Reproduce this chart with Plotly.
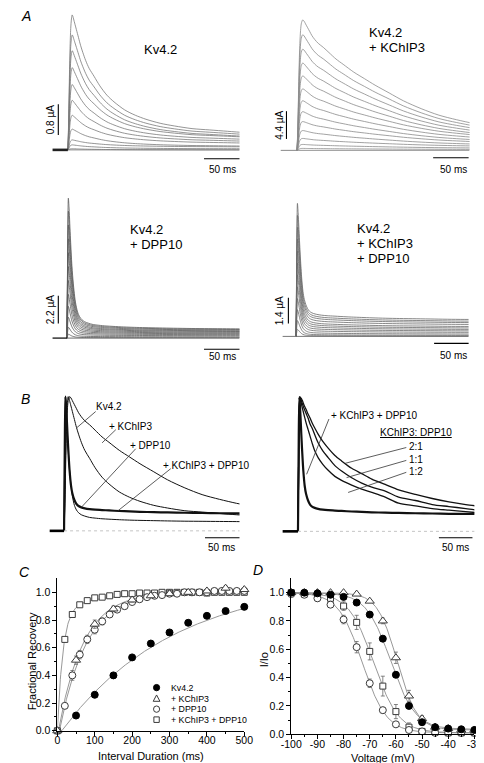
import numpy as np
import plotly.graph_objects as go

W, H = 484, 763
FONT = "Liberation Sans, Arial, sans-serif"

# ---------------- DATA ----------------
# Sample times (ms after the depolarising step) and peak-normalised current waveforms
T_MS = [0, 1, 2, 3, 4, 5, 6, 7, 8, 10, 12, 15, 18, 21, 25, 30, 37, 45, 55, 65, 80, 95, 110, 130, 150, 175, 200, 225, 250, 265]
wave_kv42   = [0, 0.2, 0.5, 0.75, 0.9, 0.97, 1.0, 0.99, 0.97, 0.93, 0.89, 0.83, 0.77, 0.72, 0.66, 0.60, 0.54, 0.47, 0.40, 0.35, 0.29, 0.25, 0.22, 0.19, 0.17, 0.15, 0.14, 0.13, 0.12, 0.115]
wave_kchip3 = [0, 0.15, 0.4, 0.65, 0.82, 0.92, 0.97, 0.99, 1.0, 0.99, 0.97, 0.94, 0.91, 0.88, 0.85, 0.82, 0.79, 0.75, 0.70, 0.66, 0.60, 0.55, 0.50, 0.44, 0.38, 0.32, 0.27, 0.235, 0.205, 0.19]
wave_dpp10  = [0, 0.6, 1.0, 0.93, 0.82, 0.71, 0.61, 0.52, 0.45, 0.34, 0.26, 0.19, 0.155, 0.135, 0.12, 0.11, 0.10, 0.095, 0.09, 0.087, 0.083, 0.08, 0.078, 0.076, 0.074, 0.072, 0.071, 0.07, 0.069, 0.068]
wave_kd     = [0, 0.6, 1.0, 0.93, 0.83, 0.72, 0.62, 0.53, 0.45, 0.34, 0.28, 0.23, 0.2, 0.185, 0.175, 0.168, 0.162, 0.158, 0.155, 0.152, 0.148, 0.145, 0.142, 0.139, 0.137, 0.135, 0.133, 0.131, 0.13, 0.13]
wave_2to1   = [0, 0.5, 0.9, 1.0, 0.995, 0.99, 0.98, 0.97, 0.955, 0.93, 0.91, 0.875, 0.845, 0.81, 0.77, 0.725, 0.67, 0.62, 0.565, 0.525, 0.47, 0.43, 0.39, 0.35, 0.31, 0.275, 0.245, 0.22, 0.2, 0.19]
wave_1to1   = [0, 0.5, 0.9, 1.0, 0.99, 0.975, 0.96, 0.945, 0.93, 0.905, 0.88, 0.845, 0.80, 0.77, 0.72, 0.66, 0.60, 0.55, 0.49, 0.45, 0.40, 0.36, 0.33, 0.30, 0.255, 0.23, 0.20, 0.185, 0.17, 0.16]
wave_1to2   = [0, 0.5, 0.9, 1.0, 0.98, 0.955, 0.93, 0.91, 0.89, 0.85, 0.81, 0.76, 0.71, 0.66, 0.60, 0.55, 0.50, 0.455, 0.41, 0.38, 0.345, 0.315, 0.29, 0.255, 0.21, 0.19, 0.17, 0.158, 0.147, 0.14]

# Panel A families: peak and end-of-pulse current of each sweep (uA)
kv42_peak_uA   = [3.51, 2.99, 2.58, 2.14, 1.70, 1.29, 0.90, 0.54, 0.26, 0.13, 0.03]
kv42_end_uA    = [0.46, 0.41, 0.36, 0.34, 0.28, 0.23, 0.18, 0.10, 0.08, 0.03, 0.0]
kchip3_peak_uA = [20.66, 18.31, 16.03, 13.83, 11.79, 9.74, 7.86, 6.13, 4.56, 3.14, 1.89, 0.94, 0.31]
kchip3_end_uA  = [4.40, 4.01, 3.61, 3.22, 2.83, 2.51, 2.12, 1.73, 1.41, 1.02, 0.71, 0.39, 0.16]
dpp10_peak_uA  = [11.08, 10.06, 8.96, 7.86, 6.76, 5.66, 4.56, 3.46, 2.51, 1.65, 0.86, 0.31]
dpp10_end_uA   = [0.73, 0.68, 0.63, 0.57, 0.52, 0.46, 0.40, 0.34, 0.27, 0.19, 0.10, 0.03]
kd_peak_uA     = [7.22, 6.57, 5.92, 5.28, 4.63, 3.98, 3.34, 2.69, 2.05, 1.45, 0.86, 0.38]
kd_end_uA      = [0.92, 0.83, 0.75, 0.65, 0.54, 0.46, 0.38, 0.30, 0.22, 0.13, 0.06, 0.02]
scale_bar_uA = [0.8, 4.4, 2.2, 1.4]
scale_bar_ms = 50

# Panel C: recovery from inactivation
rec_t_kv42 = [50, 100, 150, 200, 250, 300, 350, 400, 450, 500]
rec_kv42 = [0.11, 0.26, 0.40, 0.53, 0.63, 0.71, 0.78, 0.83, 0.865, 0.895]
rec_t_kchip3 = [0, 50, 100, 150, 200, 250, 300, 350, 400, 450, 500]
rec_kchip3 = [0, 0.51, 0.77, 0.88, 0.945, 0.975, 0.99, 1.0, 1.01, 1.03, 1.02]
rec_kchip3_err = [0, 0.03, 0.03, 0.02, 0.015, 0.01, 0.01, 0.01, 0.01, 0.015, 0.01]
rec_t_step = [0, 20, 40, 60, 80, 100, 120, 140, 160, 180, 200, 220, 240, 260, 280, 300, 320, 340, 360, 380, 400, 420, 440, 460, 480, 500]
rec_dpp10 = [0, 0.18, 0.40, 0.55, 0.66, 0.73, 0.79, 0.84, 0.875, 0.90, 0.93, 0.95, 0.965, 0.975, 0.98, 0.99, 0.99, 1.0, 1.0, 1.0, 1.0, 1.01, 1.01, 1.01, 1.01, 1.01]
rec_dpp10_err = [0, 0.02, 0.035, 0.03, 0.03, 0.03, 0.025, 0.02, 0.02, 0.02, 0.015, 0.015, 0.01, 0.01, 0.01, 0.01, 0.01, 0.01, 0.01, 0.01, 0.01, 0.01, 0.01, 0.01, 0.01, 0.01]
rec_kd = [0, 0.66, 0.84, 0.91, 0.94, 0.96, 0.965, 0.975, 0.985, 0.99, 0.99, 0.995, 0.995, 0.995, 1.0, 1.0, 1.0, 1.0, 1.0, 1.0, 0.995, 1.0, 1.0, 1.0, 1.0, 1.0]
# exponential fits: amplitude, tau (ms), delay (ms); KChIP3+DPP10 is double exponential
fit_rec_kv42 = [1.10, 300, 12]
fit_rec_kchip3 = [1.0, 66, 3]
fit_rec_dpp10 = [1.0, 72, 5.7]
fit_rec_kd = [0.88, 15, 0.12, 120]
rec_ticks = [0, 100, 200, 300, 400, 500]

# Panel D: steady-state inactivation
volt_mV = [-100, -95, -90, -85, -80, -75, -70, -65, -60, -55, -50, -45, -40, -35, -30]
inact_kv42   = [1.0, 1.0, 0.995, 0.985, 0.97, 0.93, 0.845, 0.675, 0.42, 0.20, 0.085, 0.05, 0.04, 0.035, 0.03]
inact_kchip3 = [1.0, 1.0, 1.0, 1.0, 1.0, 0.99, 0.94, 0.80, 0.54, 0.27, 0.11, 0.05, 0.04, 0.03, 0.03]
inact_dpp10  = [0.99, 0.985, 0.96, 0.915, 0.81, 0.615, 0.36, 0.17, 0.07, 0.03, 0.02, 0.01, 0.01, 0.01, 0.01]
inact_kd     = [1.0, 0.99, 0.98, 0.96, 0.905, 0.79, 0.585, 0.34, 0.16, 0.05, 0.02, 0.015, 0.01, 0.01, 0.01]
err_kv42   = [0.01, 0, 0, 0, 0.01, 0.01, 0.015, 0.02, 0.02, 0.015, 0.01, 0.005, 0.005, 0.005, 0.005]
err_kchip3 = [0, 0, 0, 0, 0, 0, 0.01, 0.02, 0.04, 0.04, 0.02, 0.01, 0.01, 0.01, 0.01]
err_dpp10  = [0.01, 0.01, 0.02, 0.02, 0.03, 0.04, 0.03, 0.02, 0.01, 0.01, 0.01, 0, 0, 0, 0]
err_kd     = [0.02, 0.01, 0.01, 0.02, 0.03, 0.05, 0.06, 0.07, 0.05, 0.03, 0.02, 0.01, 0, 0, 0]
# Boltzmann fits: V1/2 (mV), slope k (mV), residual
boltz_kv42 = [-62, 4.7, 0.035]
boltz_kchip3 = [-59.5, 3.8, 0.03]
boltz_dpp10 = [-72.8, 4.6, 0.01]
boltz_kd = [-68.5, 4.8, 0.01]
volt_ticks = [-100, -90, -80, -70, -60, -50, -40, -30]
frac_ticks = [0.0, 0.2, 0.4, 0.6, 0.8, 1.0]

# ---------------- FIGURE ----------------
fig = go.Figure()
shapes, anns = [], []


def text(x, y, s, size=10, anchor='center', angle=0, italic=False):
    anns.append(dict(x=x / W, y=1 - y / H, xref='paper', yref='paper', text=s, showarrow=False,
                     xanchor=anchor, yanchor='middle', textangle=angle, borderpad=0,
                     font=dict(size=size, color='black', family=FONT,
                               style='italic' if italic else 'normal')))


def seg(x0, y0, x1, y1, w=1.0, color='black', dash='solid'):
    shapes.append(dict(type='line', xref='paper', yref='paper', x0=x0 / W, y0=1 - y0 / H,
                       x1=x1 / W, y1=1 - y1 / H, line=dict(color=color, width=w, dash=dash)))


n_ax = [0]


def add_axes(box, xr, yr, xstyle=None, ystyle=None):
    n_ax[0] += 1
    n = n_ax[0]
    sfx = '' if n == 1 else str(n)
    l, t, r, b = box
    xa = dict(domain=[l / W, r / W], range=xr, anchor='y' + sfx, visible=False, fixedrange=True)
    ya = dict(domain=[1 - b / H, 1 - t / H], range=yr, anchor='x' + sfx, visible=False, fixedrange=True)
    if xstyle:
        xa.update(xstyle)
    if ystyle:
        ya.update(ystyle)
    fig.update_layout(**{'xaxis' + sfx: xa, 'yaxis' + sfx: ya})
    return 'x' + sfx, 'y' + sfx


def trace_axes(box, x0px, pxms, base, pxu):
    l, t, r, b = box
    return add_axes(box, [(l - x0px) / pxms, (r - x0px) / pxms], [(base - b) / pxu, (base - t) / pxu])


def family(wave, peaks, ends, t_end):
    t = np.array(T_MS, float)
    s = np.array(wave, float)
    ip = int(np.argmax(s))
    s_end = float(np.interp(t_end, t, s))
    idx = np.arange(len(s))
    out = []
    for pk, en in zip(peaks, ends):
        dec = en + (pk - en) * (s - s_end) / (1 - s_end)
        out.append(np.where(idx <= ip, pk * s, dec))
    return t, out


def line(xa, ya, x, y, color='black', width=1.0, dash='solid', smooth=True):
    fig.add_trace(go.Scatter(x=x, y=y, xaxis=xa, yaxis=ya, mode='lines', hoverinfo='skip',
                             line=dict(color=color, width=width, dash=dash,
                                       shape='spline' if smooth else 'linear', smoothing=0.8)))


# ---- Panel A ----
A_PANELS = [
    dict(wave=wave_kv42, pk=kv42_peak_uA, en=kv42_end_uA, box=(28, 0, 230, 150), x0=51, pxms=0.74,
         base=143, pxu=31 / 0.8, color='#7a7a7a', hold=(35, 51, 2.6, '#222'),
         vbar=(41, 128), vlab=(33, 112.5), hbar=(230, 152), hlab=(212, 163),
         title=['Kv4.2'], tpos=(148, 42, 'center')),
    dict(wave=wave_kchip3, pk=kchip3_peak_uA, en=kchip3_end_uA, box=(266, 0, 470, 150), x0=290,
         pxms=0.74, base=143.5, pxu=28 / 4.4, color='#8a8a8a', hold=(273, 290, 1.0, '#888'),
         vbar=(279, 132), vlab=(271, 118), hbar=(469, 151), hlab=(453, 163),
         title=['Kv4.2', '+ KChIP3'], tpos=(364, 25, 'left')),
    dict(wave=wave_dpp10, pk=dpp10_peak_uA, en=dpp10_end_uA, box=(28, 185, 230, 340), x0=50,
         pxms=0.74, base=332.7, pxu=28 / 2.2, color='#5c5c5c', hold=(35, 50, 1.2, 'black'),
         vbar=(41, 318), vlab=(33, 304), hbar=(230, 344), hlab=(212, 351),
         title=['Kv4.2', '+ DPP10'], tpos=(115, 223, 'left')),
    dict(wave=wave_kd, pk=kd_peak_uA, en=kd_end_uA, box=(266, 185, 469, 338), x0=289, pxms=0.72,
         base=331, pxu=26 / 1.4, color='#6a6a6a', hold=(275, 289, 1.0, '#777'),
         vbar=(281, 318), vlab=(272, 305), hbar=(469, 338), hlab=(453, 350),
         title=['Kv4.2', '+ KChIP3', '+ DPP10'], tpos=(352, 222, 'left')),
]

for i, p in enumerate(A_PANELS):
    xa, ya = trace_axes(p['box'], p['x0'], p['pxms'], p['base'], p['pxu'])
    t_end = (p['box'][2] - p['x0']) / p['pxms']
    t, curves = family(p['wave'], p['pk'], p['en'], t_end)
    for y in curves[::-1]:
        line(xa, ya, t, y, color=p['color'], width=0.8)
    line(xa, ya, [0, t_end], [0, 0], color=p['color'], width=0.9, smooth=False)
    h0, h1, hw, hc = p['hold']
    seg(h0, p['base'], h1, p['base'], w=hw, color=hc)
    vx, vb = p['vbar']
    seg(vx, vb, vx, vb - scale_bar_uA[i] * p['pxu'], w=1.1)
    text(p['vlab'][0], p['vlab'][1], f"{scale_bar_uA[i]} µA", size=10, angle=-90)
    hx, hy = p['hbar']
    seg(hx - scale_bar_ms * p['pxms'], hy, hx, hy, w=1.1)
    text(p['hlab'][0], p['hlab'][1], f"{scale_bar_ms} ms", size=10)
    tx, ty, anc = p['tpos']
    for k, s in enumerate(p['title']):
        text(tx, ty + k * 15, s, size=13, anchor=anc)

text(7, 8, 'A', size=14, italic=True)

# ---- Panel B ----
xa, ya = trace_axes((25, 385, 230, 532), 47, 0.72, 527, 135.3)
for wv, wd in [(wave_kchip3, 1.0), (wave_kv42, 1.0), (wave_dpp10, 1.0), (wave_kd, 2.2)]:
    line(xa, ya, T_MS, wv, color='#111', width=wd)
seg(47, 527, 230, 527, w=1, color='#c4c4c4', dash='dot')
seg(32, 527, 47, 527, w=2.6)
seg(194, 534, 194 + scale_bar_ms * 0.72, 534, w=1.1)
text(211, 544, f"{scale_bar_ms} ms", size=10)
text(7, 394, 'B', size=14, italic=True)
text(94, 402, 'Kv4.2', size=10)
text(117, 421.5, '+ KChIP3', size=10)
text(137.5, 441, '+ DPP10', size=10)
text(196, 461.5, '+ KChIP3 + DPP10', size=10)
for (x0, y0, x1, y1) in [(80, 406.7, 60, 423.3), (101, 425, 86.7, 438.3),
                         (121.7, 444.3, 65, 503.3), (158.3, 464.3, 103.3, 506.7)]:
    seg(x0, y0, x1, y1, w=0.8, color='#333')

xa, ya = trace_axes((270, 385, 475, 532), 291, 0.70, 527.5, 135.2)
for wv, wd in [(wave_2to1, 1.3), (wave_1to1, 1.3), (wave_1to2, 1.3), (wave_kd, 2.2)]:
    line(xa, ya, T_MS, wv, color='#111', width=wd)
seg(291, 527.5, 475, 527.5, w=1, color='#c4c4c4', dash='dot')
seg(275, 527.5, 291, 527.5, w=2.6)
seg(438, 534, 438 + scale_bar_ms * 0.70, 534, w=1.1)
text(455, 544, f"{scale_bar_ms} ms", size=10)
text(371, 410.5, '+ KChIP3 + DPP10', size=10)
text(414, 427.5, '<u>KChIP3: DPP10</u>', size=10)
text(414, 442, '2:1', size=10)
text(414, 455, '1:1', size=10)
text(414, 467.5, '1:2', size=10)
for (x0, y0, x1, y1) in [(323.3, 414.3, 300, 470), (404, 443, 340, 459),
                         (404, 456, 341.7, 473.3), (404, 468, 343.3, 488.3)]:
    seg(x0, y0, x1, y1, w=0.8, color='#333')

# ---- Panel C / D axes style ----
AX = dict(visible=True, showline=True, linecolor='black', linewidth=1, ticks='outside', ticklen=4,
          tickwidth=1, tickcolor='black', showgrid=False, zeroline=False,
          tickfont=dict(size=10.5, color='black', family=FONT))
XSTANDOFF = -4

xc, yc = add_axes((40, 575, 235, 728.5), [0, 500], [0, 1.1],
                  xstyle=dict(AX, tickvals=rec_ticks, ticktext=[str(v) for v in rec_ticks],
                              ticklabelstandoff=XSTANDOFF,
                              minor=dict(ticks='outside', ticklen=2, tickvals=[50, 150, 250, 350, 450], tickcolor='black')),
                  ystyle=dict(AX, tickvals=frac_ticks, ticktext=[f"{v:.1f}" for v in frac_ticks],
                              minor=dict(ticks='outside', ticklen=2, tickvals=[0.1, 0.3, 0.5, 0.7, 0.9], tickcolor='black')))

tt = np.linspace(0, 500, 501)
FIT = dict(color='#8c8c8c', width=0.9)


def fit_line(xa, ya, x, y):
    fig.add_trace(go.Scatter(x=x, y=y, xaxis=xa, yaxis=ya, mode='lines', line=FIT, hoverinfo='skip'))


a, tau, d = fit_rec_kv42
fit_line(xc, yc, tt, np.clip(a * (1 - np.exp(-(tt - d) / tau)), 0, None))
a, tau, d = fit_rec_kchip3
fit_line(xc, yc, tt, np.clip(a * (1 - np.exp(-(tt - d) / tau)), 0, None))
a, tau, d = fit_rec_dpp10
fit_line(xc, yc, tt, np.clip(a * (1 - np.exp(-(tt - d) / tau)), 0, None))
a1, t1, a2, t2 = fit_rec_kd
fit_line(xc, yc, tt, a1 * (1 - np.exp(-tt / t1)) + a2 * (1 - np.exp(-tt / t2)))

OPEN = '#3a3a3a'
EB = dict(type='data', color='#666', thickness=0.8, width=2)


def markers(xa, ya, x, y, symbol, size, filled=False, err=None):
    fig.add_trace(go.Scatter(
        x=x, y=y, xaxis=xa, yaxis=ya, mode='markers', cliponaxis=False, hoverinfo='skip',
        error_y=dict(EB, array=err) if err is not None else None,
        marker=dict(symbol=symbol, size=size, color='black' if filled else 'white',
                    line=dict(color='black' if filled else OPEN, width=1))))


markers(xc, yc, rec_t_step, rec_kd, 'square', 6)
markers(xc, yc, rec_t_step, rec_dpp10, 'circle', 7, err=rec_dpp10_err)
markers(xc, yc, rec_t_kchip3, rec_kchip3, 'triangle-up', 8, err=rec_kchip3_err)
markers(xc, yc, rec_t_kv42, rec_kv42, 'circle', 7, filled=True)

text(6, 568, 'C', size=14, italic=True)
text(13, 658, 'Fractional Recovery', size=11, angle=-90)
text(138, 754, 'Interval Duration (ms)', size=11)

# legend of panel C
leg_rows = [685, 696, 706.7, 717.3]
leg_names = ['Kv4.2', '+ KChIP3', '+ DPP10', '+ KChIP3 + DPP10']
sx = 143.5
for r, name in zip(leg_rows, leg_names):
    text(157, r, name, size=8.8, anchor='left')
r0, r1, r2, r3 = leg_rows
shapes.append(dict(type='circle', xref='paper', yref='paper', x0=(sx - 3.2) / W, x1=(sx + 3.2) / W,
                   y0=1 - (r0 + 3.2) / H, y1=1 - (r0 - 3.2) / H, fillcolor='black', line=dict(color='black', width=1)))
shapes.append(dict(type='path', xref='paper', yref='paper',
                   path=f"M {(sx - 3.5) / W} {1 - (r1 + 2.8) / H} L {(sx + 3.5) / W} {1 - (r1 + 2.8) / H} L {sx / W} {1 - (r1 - 3.6) / H} Z",
                   line=dict(color=OPEN, width=1)))
shapes.append(dict(type='circle', xref='paper', yref='paper', x0=(sx - 3.2) / W, x1=(sx + 3.2) / W,
                   y0=1 - (r2 + 3.2) / H, y1=1 - (r2 - 3.2) / H, line=dict(color=OPEN, width=1)))
shapes.append(dict(type='rect', xref='paper', yref='paper', x0=(sx - 2.8) / W, x1=(sx + 2.8) / W,
                   y0=1 - (r3 + 2.8) / H, y1=1 - (r3 - 2.8) / H, line=dict(color=OPEN, width=1)))

# ---- Panel D ----
xd, yd = add_axes((284, 575, 475, 732), [-100, -30], [0, 1.1],
                  xstyle=dict(AX, tickvals=volt_ticks, ticktext=[str(v) for v in volt_ticks],
                              ticklabelstandoff=XSTANDOFF,
                              minor=dict(ticks='outside', ticklen=2, tickvals=[-95, -85, -75, -65, -55, -45, -35], tickcolor='black')),
                  ystyle=dict(AX, tickvals=frac_ticks, ticktext=[f"{v:.1f}" for v in frac_ticks],
                              minor=dict(ticks='outside', ticklen=2, tickvals=[0.1, 0.3, 0.5, 0.7, 0.9], tickcolor='black')))
vv = np.linspace(-100, -30, 281)
for vh, k, b in [boltz_kv42, boltz_kchip3, boltz_dpp10, boltz_kd]:
    fit_line(xd, yd, vv, b + (1 - b) / (1 + np.exp((vv - vh) / k)))
markers(xd, yd, volt_mV, inact_kd, 'square', 6, err=err_kd)
markers(xd, yd, volt_mV, inact_dpp10, 'circle', 7, err=err_dpp10)
markers(xd, yd, volt_mV, inact_kchip3, 'triangle-up', 8, err=err_kchip3)
markers(xd, yd, volt_mV, inact_kv42, 'circle', 7, filled=True, err=err_kv42)

text(249, 566, 'D', size=14, italic=True)
text(255, 657, 'I/Io', size=11, angle=-90)
text(380, 756, 'Voltage (mV)', size=11)

fig.update_layout(width=W, height=H, margin=dict(l=0, r=0, t=0, b=0), paper_bgcolor='white',
                  plot_bgcolor='white', showlegend=False, shapes=shapes, annotations=anns,
                  font=dict(family=FONT, color='black'))
fig.write_html("out.html")
